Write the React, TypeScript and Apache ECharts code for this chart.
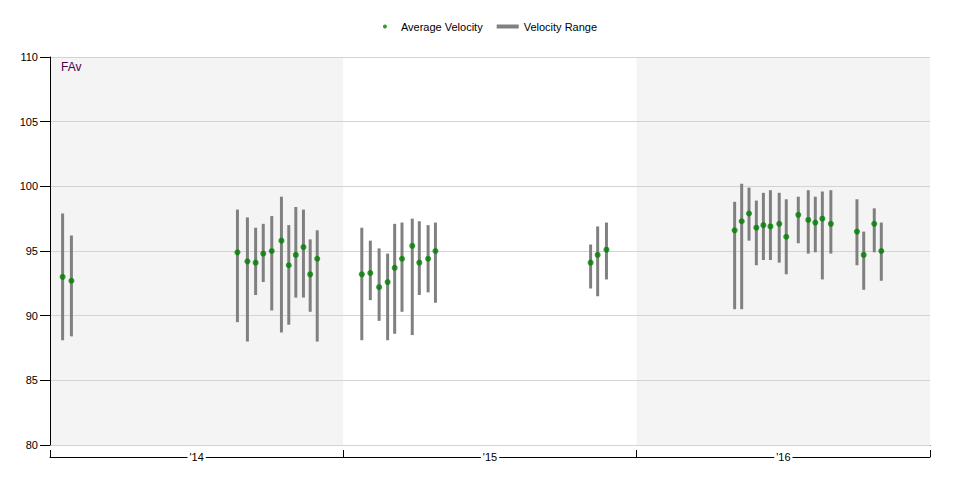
import React, { useEffect, useRef } from "react";
import * as echarts from "echarts";

// x position expressed in seasons from start of '14 (0..3)
const xPos = [
  0.043, 0.073,
  0.639, 0.673, 0.701, 0.727, 0.756, 0.789, 0.814, 0.838, 0.864, 0.887, 0.911,
  1.063, 1.092, 1.122, 1.151, 1.175, 1.2, 1.235, 1.259, 1.289, 1.314,
  1.843, 1.867, 1.897,
  2.334, 2.358, 2.383, 2.408, 2.432, 2.456, 2.486, 2.51, 2.551, 2.585, 2.609, 2.633, 2.662,
  2.751, 2.774, 2.81, 2.834,
];
const avgVelocity = [
  93.0, 92.7,
  94.9, 94.2, 94.1, 94.8, 95.0, 95.8, 93.9, 94.7, 95.3, 93.2, 94.4,
  93.2, 93.3, 92.2, 92.6, 93.7, 94.4, 95.4, 94.1, 94.4, 95.0,
  94.1, 94.7, 95.1,
  96.6, 97.3, 97.9, 96.8, 97.0, 96.9, 97.1, 96.1, 97.8, 97.4, 97.2, 97.5, 97.1,
  96.5, 94.7, 97.1, 95.0,
];
const rangeLow = [
  88.1, 88.4,
  89.5, 88.0, 91.6, 92.6, 90.4, 88.7, 89.3, 91.4, 91.4, 90.3, 88.0,
  88.1, 91.2, 89.6, 88.1, 88.6, 90.3, 88.5, 91.6, 91.8, 91.0,
  92.1, 91.5, 92.8,
  90.5, 90.5, 95.8, 93.9, 94.3, 94.3, 94.1, 93.2, 95.6, 94.8, 94.9, 92.8, 94.8,
  93.9, 92.0, 94.9, 92.7,
];
const rangeHigh = [
  97.9, 96.2,
  98.2, 97.6, 96.8, 97.1, 97.7, 99.2, 97.0, 98.4, 98.2, 95.9, 96.6,
  96.8, 95.8, 95.2, 94.8, 97.1, 97.2, 97.5, 97.3, 97.0, 97.2,
  95.5, 96.9, 97.2,
  98.8, 100.2, 99.9, 98.9, 99.5, 99.7, 99.5, 99.0, 99.2, 99.7, 99.2, 99.6, 99.7,
  99.0, 96.5, 98.3, 97.2,
];
const seasons = ["'14", "'15", "'16"];

const FONT = "'Liberation Sans', Arial, sans-serif";

export default function App() {
  const ref = useRef<HTMLDivElement>(null);
  useEffect(() => {
    if (!ref.current) return;
    const chart = echarts.init(ref.current, undefined, { renderer: "svg" });
    const avgData = xPos.map((x, i) => [x, avgVelocity[i]]);
    const rangeData = xPos.map((x, i) => [x, rangeLow[i], rangeHigh[i]]);
    chart.setOption({
      animation: false,
      textStyle: { fontFamily: FONT },
      title: {
        text: "FAv",
        left: 61,
        top: 61,
        padding: 0,
        textStyle: { fontSize: 12, fontWeight: "normal", color: "#4b0050", fontFamily: FONT },
      },
      legend: {
        top: 16,
        left: "center",
        itemWidth: 22,
        itemHeight: 4,
        itemGap: 14,
        textStyle: { fontSize: 11, color: "#000", fontFamily: FONT },
        data: [
          { name: "Average Velocity", icon: "circle" },
          { name: "Velocity Range", icon: "rect" },
        ],
      },
      grid: { left: 50, right: 50, top: 57, bottom: 45, containLabel: false },
      xAxis: [
        {
          type: "value",
          min: 0,
          max: 3,
          interval: 1,
          z: 0,
          axisLine: { show: true, lineStyle: { color: "#000", width: 1 } },
          axisTick: { show: false },
          axisLabel: { show: false },
          splitLine: { show: false },
          splitArea: { show: true, areaStyle: { color: ["#f4f4f4", "#ffffff"] } },
        },
        {
          type: "category",
          data: seasons,
          position: "bottom",
          offset: 12,
          boundaryGap: true,
          z: 2,
          axisLine: { show: true, lineStyle: { color: "#000", width: 1 } },
          axisTick: { show: true, inside: true, length: 7, lineStyle: { color: "#000" } },
          axisLabel: {
            margin: 0,
            verticalAlign: "middle",
            backgroundColor: "#fff",
            padding: [0, 2],
            fontSize: 11,
            color: "#000",
            fontFamily: FONT,
          },
          splitLine: { show: false },
        },
      ],
      yAxis: {
        type: "value",
        min: 80,
        max: 110,
        interval: 5,
        z: 1,
        axisLine: { show: true, lineStyle: { color: "#000" } },
        axisTick: { show: true, length: 10, lineStyle: { color: "#000" } },
        axisLabel: { margin: 12, fontSize: 11, color: "#000", fontFamily: FONT },
        splitLine: { show: true, lineStyle: { color: "#d3d3d3" } },
      },
      series: [
        {
          name: "Velocity Range",
          type: "custom",
          xAxisIndex: 0,
          itemStyle: { color: "#808080" },
          encode: { x: 0, y: [1, 2] },
          data: rangeData,
          z: 3,
          renderItem: (params: any, api: any) => {
            const lo = api.coord([api.value(0), api.value(1)]);
            const hi = api.coord([api.value(0), api.value(2)]);
            return {
              type: "line",
              shape: { x1: lo[0], y1: lo[1], x2: hi[0], y2: hi[1] },
              style: { stroke: "#808080", lineWidth: 3 },
            };
          },
        },
        {
          name: "Average Velocity",
          type: "scatter",
          xAxisIndex: 0,
          symbol: "circle",
          symbolSize: 6,
          itemStyle: { color: "#008000" },
          data: avgData,
          z: 4,
        },
      ],
    });
    return () => chart.dispose();
  }, []);
  return <div ref={ref} style={{ width: 980, height: 490, position: "absolute", left: 0, top: 0 }} />;
}
